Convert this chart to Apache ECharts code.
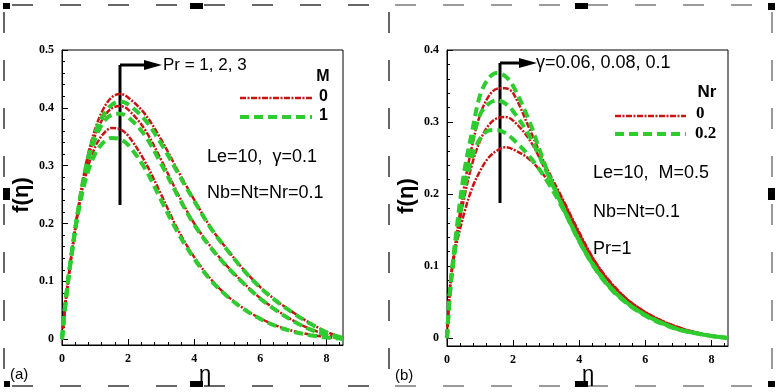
<!DOCTYPE html>
<html>
<head>
<meta charset="utf-8">
<script src="https://cdn.jsdelivr.net/npm/echarts@6/dist/echarts.min.js"></script>
<style>
html, body { margin: 0; padding: 0; background: #fff; }
#chart { width: 778px; height: 392px; }
</style>
</head>
<body>
<div id="chart"></div>
<script>
// shared eta grid
var eta = [0, 0.1, 0.25, 0.5, 0.75, 1, 1.25, 1.5, 1.75, 2, 2.5, 3, 3.5, 4, 4.5, 5, 5.5, 6, 6.5, 7, 7.5, 8, 8.5];

// panel (a): Pr = 1, 2, 3 ; M = 0 (red), M = 1 (green)
var a_m0_pr1 = [0, 0.06, 0.13, 0.225, 0.29, 0.332, 0.355, 0.365, 0.363, 0.352, 0.308, 0.25, 0.19, 0.142, 0.104, 0.075, 0.053, 0.036, 0.023, 0.014, 0.008, 0.004, 0.001];
var a_m0_pr2 = [0, 0.06, 0.13, 0.228, 0.303, 0.352, 0.383, 0.399, 0.403, 0.397, 0.363, 0.31, 0.252, 0.2, 0.16, 0.126, 0.097, 0.071, 0.05, 0.032, 0.018, 0.008, 0.001];
var a_m0_pr3 = [0, 0.06, 0.13, 0.23, 0.31, 0.363, 0.398, 0.418, 0.424, 0.418, 0.39, 0.345, 0.292, 0.241, 0.193, 0.155, 0.12, 0.09, 0.066, 0.046, 0.028, 0.013, 0.002];
var a_m1_pr1 = [0, 0.06, 0.13, 0.222, 0.283, 0.32, 0.34, 0.348, 0.346, 0.336, 0.296, 0.24, 0.185, 0.139, 0.102, 0.074, 0.052, 0.035, 0.022, 0.013, 0.007, 0.003, 0.001];
var a_m1_pr2 = [0, 0.06, 0.13, 0.226, 0.3, 0.346, 0.375, 0.388, 0.39, 0.384, 0.353, 0.303, 0.248, 0.198, 0.158, 0.125, 0.096, 0.07, 0.049, 0.031, 0.017, 0.007, 0.001];
var a_m1_pr3 = [0, 0.06, 0.13, 0.228, 0.305, 0.356, 0.388, 0.405, 0.411, 0.406, 0.38, 0.338, 0.288, 0.239, 0.192, 0.154, 0.119, 0.089, 0.065, 0.045, 0.027, 0.012, 0.002];

// panel (b): gamma = 0.06, 0.08, 0.1 ; Nr = 0 (red), Nr = 0.2 (green)
var b_nr0_g1 = [0, 0.076, 0.122, 0.17, 0.207, 0.232, 0.25, 0.26, 0.265, 0.262, 0.248, 0.222, 0.19, 0.143, 0.102, 0.073, 0.051, 0.035, 0.023, 0.014, 0.008, 0.003, 0];
var b_nr0_g2 = [0, 0.075, 0.125, 0.19, 0.24, 0.274, 0.295, 0.305, 0.307, 0.302, 0.275, 0.232, 0.191, 0.145, 0.104, 0.074, 0.052, 0.036, 0.024, 0.015, 0.008, 0.003, 0];
var b_nr0_g3 = [0, 0.075, 0.13, 0.205, 0.265, 0.31, 0.335, 0.346, 0.347, 0.34, 0.29, 0.238, 0.193, 0.147, 0.105, 0.075, 0.052, 0.036, 0.024, 0.015, 0.008, 0.003, 0];
var b_nr2_g1 = [0, 0.068, 0.125, 0.2, 0.25, 0.277, 0.288, 0.289, 0.285, 0.276, 0.252, 0.22, 0.18, 0.134, 0.095, 0.066, 0.046, 0.031, 0.02, 0.012, 0.007, 0.003, 0];
var b_nr2_g2 = [0, 0.07, 0.13, 0.215, 0.27, 0.31, 0.325, 0.33, 0.326, 0.315, 0.28, 0.232, 0.182, 0.135, 0.096, 0.067, 0.047, 0.032, 0.021, 0.012, 0.007, 0.003, 0];
var b_nr2_g3 = [0, 0.07, 0.135, 0.225, 0.285, 0.337, 0.36, 0.368, 0.364, 0.35, 0.3, 0.236, 0.183, 0.136, 0.097, 0.068, 0.047, 0.032, 0.021, 0.012, 0.007, 0.003, 0];

// ticks
var xTicks = [0, 2, 4, 6, 8];
var xMinor = [0.4, 0.8, 1.2, 1.6, 2.4, 2.8, 3.2, 3.6, 4.4, 4.8, 5.2, 5.6, 6.4, 6.8, 7.2, 7.6, 8.4];
var yTicksA = [0, 0.1, 0.2, 0.3, 0.4, 0.5];
var yMinorA = [0.02, 0.04, 0.06, 0.08, 0.12, 0.14, 0.16, 0.18, 0.22, 0.24, 0.26, 0.28, 0.32, 0.34, 0.36, 0.38, 0.42, 0.44, 0.46, 0.48];
var yTicksB = [0, 0.1, 0.2, 0.3, 0.4];
var yMinorB = [0.02, 0.04, 0.06, 0.08, 0.12, 0.14, 0.16, 0.18, 0.22, 0.24, 0.26, 0.28, 0.32, 0.34, 0.36, 0.38];

var red = '#c81414';
var green = '#2ecc2e';
var tickFont = 'Liberation Serif';
var textFont = 'Liberation Sans';

function mkSeries(vals, idx, isRed) {
    return {
        type: 'line',
        xAxisIndex: idx,
        yAxisIndex: idx,
        data: eta.map(function(x, i) { return [x, vals[i]]; }),
        smooth: 0.35,
        symbol: 'none',
        silent: true,
        lineStyle: isRed ?
            { color: red, width: 2.5, type: [6, 1.5, 2, 1.5] } :
            { color: green, width: 4, type: [9, 5] }
    };
}

function mkX(grid, main) {
    return {
        type: 'value', gridIndex: grid, position: 'bottom', min: 0, max: 8.5,
        axisLine: { show: main, onZero: false, lineStyle: { color: '#000', width: 1 } },
        axisTick: { show: true, inside: true, length: main ? 6 : 3, customValues: main ? xTicks : xMinor,
                    lineStyle: { color: '#000', width: 1 } },
        axisLabel: { show: main, customValues: xTicks, margin: 8, color: '#000',
                     fontFamily: tickFont, fontWeight: 'bold', fontSize: 12 },
        splitLine: { show: false }
    };
}

function mkY(grid, main, min, max, ticks, minor) {
    return {
        type: 'value', gridIndex: grid, position: 'left', min: min, max: max,
        axisLine: { show: main, onZero: false, lineStyle: { color: '#000', width: 1 } },
        axisTick: { show: true, inside: true, length: main ? 6 : 3, customValues: main ? ticks : minor,
                    lineStyle: { color: '#000', width: 1 } },
        axisLabel: { show: main, customValues: ticks, margin: 8, color: '#000',
                     fontFamily: tickFont, fontWeight: 'bold', fontSize: 12 },
        splitLine: { show: false }
    };
}

function txt(s, x, y, font, align, rot) {
    var o = {
        type: 'text', silent: true,
        style: { text: s, x: x, y: y, font: font, fill: '#000',
                 textAlign: align || 'left', textVerticalAlign: 'middle',
                 align: align || 'left', verticalAlign: 'middle' }
    };
    if (rot) {
        // rotated labels get their own origin
        o.x = x; o.y = y; o.rotation = rot;
        o.style.x = 0; o.style.y = 0;
    }
    return o;
}

function seg(x1, y1, x2, y2, style) {
    return { type: 'line', silent: true, shape: { x1: x1, y1: y1, x2: x2, y2: y2 }, style: style };
}

function box(x, y, w, h) {
    return { type: 'rect', silent: true, shape: { x: x, y: y, width: w, height: h }, style: { fill: '#000' } };
}

var dashDark = { stroke: '#666', lineWidth: 2, lineDash: [21, 27] };
var dashLight = { stroke: '#9a9a9a', lineWidth: 2, lineDash: [21, 27] };
var blk = { stroke: '#000', lineWidth: 3 };
var redLeg = { stroke: red, lineWidth: 2.5, lineDash: [6, 1.5, 2, 1.5] };
var greenLeg = { stroke: green, lineWidth: 4, lineDash: [9, 5] };

var graphics = [
    // panel frames (dashed selection outlines)
    seg(12, 5, 386, 5, dashDark),
    seg(4, 12, 4, 384, dashDark),
    seg(12, 386, 386, 386, dashDark),
    seg(389, 12, 389, 384, dashDark),
    seg(395, 5, 770, 5, dashLight),
    seg(395, 386, 770, 386, dashLight),
    seg(772, 12, 772, 384, dashLight),
    box(3, 3, 7, 6), box(190, 3, 13, 6), box(3, 188, 7, 12), box(4, 381, 6, 6), box(190, 381, 13, 6),
    box(575, 3, 13, 6), box(768, 3, 7, 7), box(768, 188, 7, 12), box(575, 381, 13, 6), box(768, 381, 7, 6),

    // panel (a) annotations
    seg(120, 65, 120, 205, blk),
    seg(120, 65, 150, 65, blk),
    { type: 'polygon', silent: true, shape: { points: [[144, 60], [162, 65], [144, 70]] }, style: { fill: '#000' } },
    txt('Pr = 1, 2, 3', 163, 65, '17px ' + textFont),
    txt('M', 323, 77, 'bold 16px ' + textFont, 'center'),
    seg(240, 98, 312, 98, redLeg),
    seg(240, 117, 312, 117, greenLeg),
    txt('0', 319, 97, 'bold 16px ' + textFont),
    txt('1', 319, 116, 'bold 16px ' + textFont),
    txt('Le=10,  \u03b3=0.1', 207, 157, '18px ' + textFont),
    txt('Nb=Nt=Nr=0.1', 207, 193, '18px ' + textFont),
    txt('f(\u03b7)', 22, 195, 'bold 22px ' + textFont, 'center', Math.PI / 2),
    txt('\u03b7', 205, 375, '22px ' + textFont, 'center'),
    txt('(a)', 10, 375, '15px ' + textFont),

    // panel (b) annotations
    seg(500, 63, 500, 203, blk),
    seg(500, 63, 525, 63, blk),
    { type: 'polygon', silent: true, shape: { points: [[519, 58], [537, 63], [519, 68]] }, style: { fill: '#000' } },
    txt('\u03b3=0.06, 0.08, 0.1', 536, 63, '18px ' + textFont),
    txt('Nr', 707, 92, 'bold 17px ' + textFont, 'center'),
    seg(615, 116, 686, 116, redLeg),
    seg(615, 134, 686, 134, greenLeg),
    txt('0', 696, 114, 'bold 17px ' + tickFont),
    txt('0.2', 695, 134, 'bold 17px ' + tickFont),
    txt('Le=10,  M=0.5', 593, 173, '18px ' + textFont),
    txt('Nb=Nt=0.1', 593, 212, '18px ' + textFont),
    txt('Pr=1', 593, 249, '18px ' + textFont),
    txt('f(\u03b7)', 407, 196, 'bold 22px ' + textFont, 'center', Math.PI / 2),
    txt('\u03b7', 588, 375, '22px ' + textFont, 'center'),
    txt('(b)', 395, 376, '15px ' + textFont)
];

var option = {
    animation: false,
    backgroundColor: '#fff',
    grid: [
        { left: 62, top: 50, width: 281, height: 295, show: true, borderColor: '#000', borderWidth: 1 },
        { left: 447, top: 50, width: 281, height: 296, show: true, borderColor: '#000', borderWidth: 1 }
    ],
    xAxis: [mkX(0, true), mkX(0, false), mkX(1, true), mkX(1, false)],
    yAxis: [
        mkY(0, true, -0.01, 0.5, yTicksA, yMinorA),
        mkY(0, false, -0.01, 0.5, yTicksA, yMinorA),
        mkY(1, true, -0.011, 0.4, yTicksB, yMinorB),
        mkY(1, false, -0.011, 0.4, yTicksB, yMinorB)
    ],
    series: [
        mkSeries(a_m0_pr1, 0, true), mkSeries(a_m0_pr2, 0, true), mkSeries(a_m0_pr3, 0, true),
        mkSeries(a_m1_pr1, 0, false), mkSeries(a_m1_pr2, 0, false), mkSeries(a_m1_pr3, 0, false),
        mkSeries(b_nr0_g1, 2, true), mkSeries(b_nr0_g2, 2, true), mkSeries(b_nr0_g3, 2, true),
        mkSeries(b_nr2_g1, 2, false), mkSeries(b_nr2_g2, 2, false), mkSeries(b_nr2_g3, 2, false)
    ],
    graphic: graphics
};

var chart = echarts.init(document.getElementById('chart'));
chart.setOption(option);
</script>
</body>
</html>
